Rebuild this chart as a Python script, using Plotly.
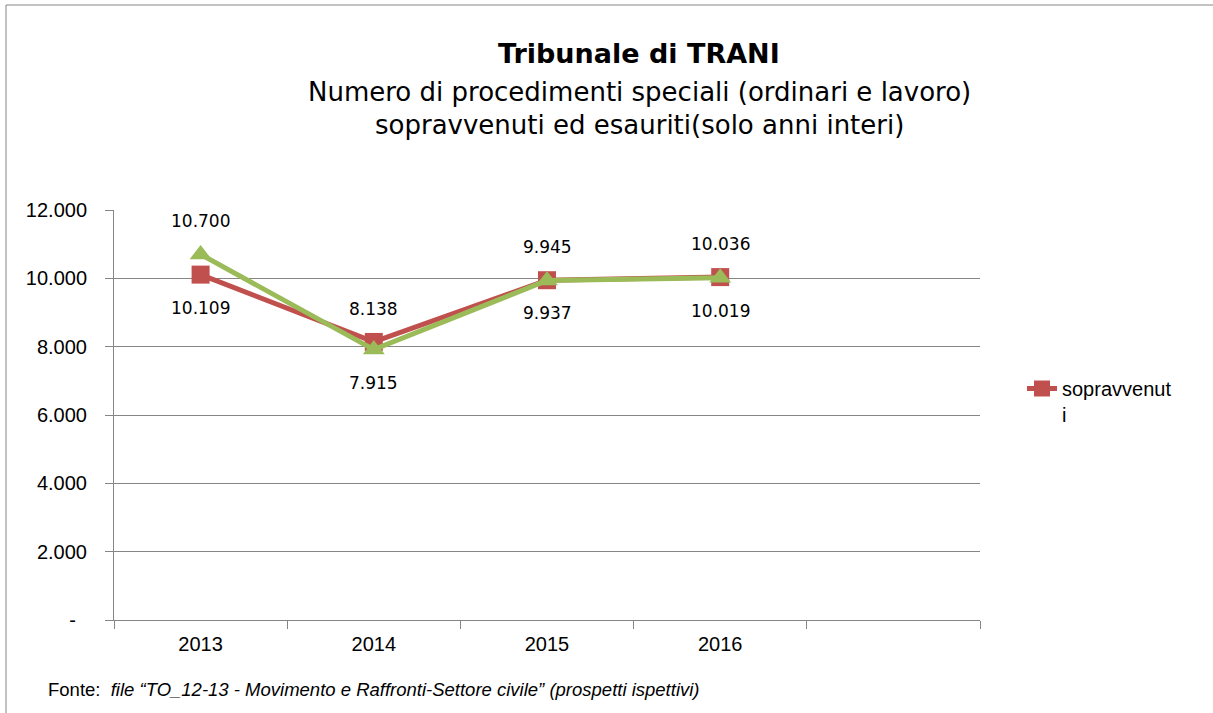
import plotly.graph_objects as go

years = ["2013", "2014", "2015", "2016"]
sopravvenuti = [10109, 8138, 9945, 10036]
esauriti = [10700, 7915, 9937, 10019]
red_label_pos = [-1, 1, 1, 1]
green_label_pos = [1, -1, -1, -1]
y_ticks = [0, 2000, 4000, 6000, 8000, 10000, 12000]
y_ticktext = ["-\u00a0\u00a0", "2.000", "4.000", "6.000", "8.000", "10.000", "12.000"]

RED = "#C0504D"
GREEN = "#9BBB59"
GRID = "#868686"
FONT = "Liberation Sans, Arial, sans-serif"
FONT2 = "DejaVu Sans, Verdana, sans-serif"

# plot area in page pixels: x 114..980, y 210..620
def px(xp):
    return (xp - 114) / 866

def py(yp):
    return (620 - yp) / 410

xpos = list(range(len(years)))

def fmt(v):
    return f"{v:,}".replace(",", ".")

fig = go.Figure()
fig.add_trace(go.Scatter(
    x=xpos, y=sopravvenuti, mode="lines+markers", name="sopravvenut<br>i",
    line=dict(color=RED, width=5),
    marker=dict(symbol="square", size=18, color=RED),
    showlegend=True,
))
fig.add_trace(go.Scatter(
    x=xpos, y=esauriti, mode="lines+markers", name="esauriti",
    line=dict(color=GREEN, width=5),
    marker=dict(symbol="triangle-up", size=19, color=GREEN),
    showlegend=False,
))
fig.add_trace(go.Scatter(x=[None], y=[None], xaxis="x2", yaxis="y",
                         showlegend=False, hoverinfo="skip"))

annotations = []
for series, pos in ((sopravvenuti, red_label_pos), (esauriti, green_label_pos)):
    for x, v, p in zip(xpos, series, pos):
        annotations.append(dict(
            x=x, y=v, xref="x", yref="y", text=fmt(v), showarrow=False,
            yshift=33 * p, font=dict(family=FONT2, size=17, color="#000000"),
        ))

title_lines = [
    ("<b>Tribunale di TRANI</b>", 53, 27),
    ("Numero di procedimenti speciali (ordinari e lavoro)", 92, 26),
    ("sopravvenuti ed esauriti(solo anni interi)", 125, 26),
]
for txt, yy, sz in title_lines:
    annotations.append(dict(
        xref="paper", yref="paper", x=px(639), y=py(yy),
        xanchor="center", yanchor="middle", showarrow=False, text=txt,
        font=dict(family=FONT2, size=sz, color="#000000"),
    ))
annotations.append(dict(
    xref="paper", yref="paper", x=px(46), y=py(689),
    xanchor="left", yanchor="middle", showarrow=False,
    text="Fonte:  <i>file \u201cTO_12-13 - Movimento e Raffronti-Settore civile\u201d (prospetti ispettivi)</i>",
    font=dict(family=FONT, size=18.5, color="#000000"),
))

fig.update_layout(
    width=1213, height=713,
    margin=dict(l=114, r=233, t=210, b=93),
    paper_bgcolor="white", plot_bgcolor="white",
    font=dict(family=FONT, size=20, color="#000000"),
    xaxis=dict(
        range=[-0.5, 4.5], tickvals=xpos, ticktext=years,
        showgrid=False, zeroline=False, showline=False, ticks="",
        tickfont=dict(size=20), ticklabelstandoff=10,
    ),
    xaxis2=dict(
        range=[-0.5, 4.5], overlaying="x", side="bottom", anchor="y",
        tickvals=[-0.5, 0.5, 1.5, 2.5, 3.5, 4.5], showticklabels=False,
        ticks="outside", ticklen=8, tickcolor=GRID, tickwidth=1,
        showgrid=False, zeroline=False, showline=True, linecolor=GRID,
    ),
    yaxis=dict(
        range=[0, 12000], tickvals=y_ticks, ticktext=y_ticktext,
        showgrid=True, gridcolor=GRID, gridwidth=1,
        showline=True, linecolor=GRID, ticks="outside", ticklen=8,
        tickcolor=GRID, zeroline=False, tickfont=dict(size=20),
        ticklabelstandoff=14,
    ),
    legend=dict(
        x=px(1022), y=py(369), xanchor="left", yanchor="top",
        font=dict(family=FONT, size=20), bgcolor="rgba(0,0,0,0)",
        valign="top",
    ),
    annotations=annotations,
    shapes=[dict(
        type="rect", xref="paper", yref="paper",
        x0=px(6), x1=px(1230), y0=py(735), y1=py(5),
        line=dict(color=GRID, width=1), fillcolor="rgba(0,0,0,0)", layer="below",
    )],
)

fig.write_html(
    "out.html",
    config={"displayModeBar": False},
    post_script="document.body.style.margin='0';document.body.style.overflow='hidden';",
)
